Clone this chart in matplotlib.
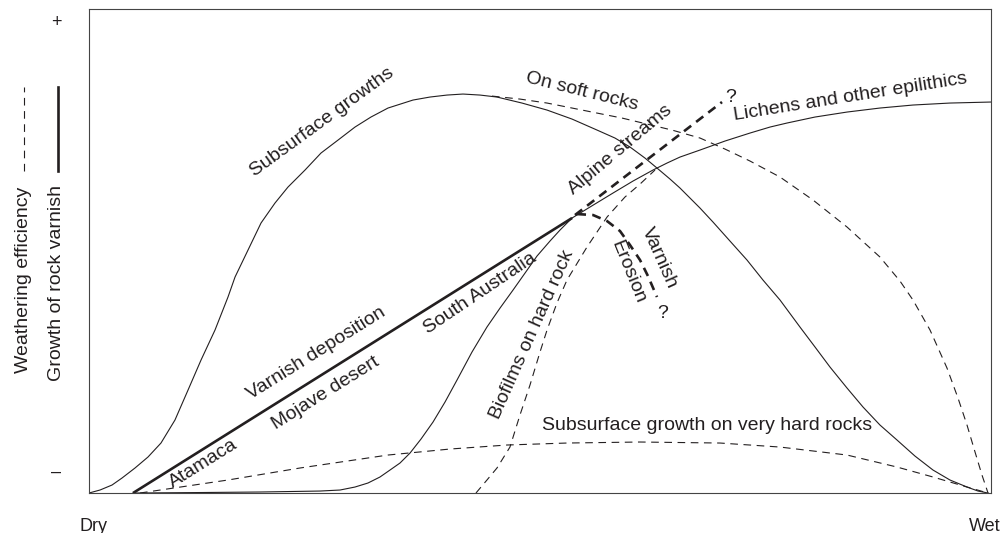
import matplotlib
matplotlib.use("Agg")
import matplotlib.pyplot as plt
from matplotlib.lines import Line2D

plt.rcParams['font.family'] = ['Liberation Sans', 'DejaVu Sans']
plt.rcParams['lines.scale_dashes'] = False

INK = '#231f20'

# moisture gradient: 0 = dry, 100 = wet; response: 0 = low (-), 100 = high (+)

# subsurface growths (solid)
sub_x = [0, 1.22, 2.55, 3.66, 5.10, 6.54, 7.98, 9.53, 10.98, 12.42, 13.97, 15.41,
         16.19, 17.63, 19.07, 20.62, 22.06, 23.95, 25.72, 27.61, 29.49, 31.26, 33.15,
         35.92, 37.80, 39.69, 41.46, 43.35, 45.23, 48.00, 50.78, 53.55, 56.32, 58.31,
         59.98, 61.64, 62.97, 64.41, 65.52, 66.63, 67.74, 69.18, 71.06, 72.95, 74.72,
         76.61, 78.82, 80.49, 82.15, 84.04, 85.81, 87.69, 89.58, 91.57, 93.57, 95.45,
         97.34, 98.56, 99.67]
sub_y = [0, 0.62, 1.65, 3.10, 5.17, 7.44, 10.33, 15.08, 21.28, 27.48, 33.68, 40.50,
         44.63, 50.21, 55.79, 59.92, 63.22, 66.74, 70.25, 72.93, 75.62, 77.69, 79.55,
         81.20, 81.82, 82.23, 82.44, 82.23, 81.82, 80.58, 79.13, 77.27, 75.00, 73.35,
         71.49, 69.21, 67.15, 64.88, 63.02, 60.95, 58.88, 55.99, 52.07, 48.14, 44.01,
         39.88, 34.30, 30.17, 26.03, 21.69, 17.77, 14.05, 10.95, 7.64, 4.75, 2.69,
         1.24, 0.41, 0]

# varnish deposition (thick solid)
dep_x = [4.88, 53.55]
dep_y = [0, 56.82]

# varnish growth on hard rock, South Australia branch (solid)
sa_x = [4.88, 12.31, 18.96, 25.61, 27.83, 29.49, 30.93, 32.26, 33.37, 34.48, 35.59,
        36.81, 38.14, 39.47, 40.80, 42.46, 44.12, 45.57, 47.01, 48.34, 49.67, 51.11,
        52.22, 53.55]
sa_y = [0, 0.10, 0.21, 0.41, 0.62, 1.24, 2.07, 3.31, 4.75, 6.20, 8.26,
        11.16, 14.67, 18.80, 23.35, 29.13, 34.30, 38.22, 41.94, 45.45, 48.97, 52.07,
        54.34, 56.82]

# lichens and other epilithics (solid)
lich_x = [53.55, 55.54, 58.09, 60.31, 62.53, 64.08, 65.52, 67.74, 70.51, 73.28,
          75.50, 77.38, 80.49, 84.04, 87.69, 91.35, 95.45, 100]
lich_y = [56.82, 59.09, 61.98, 64.46, 66.74, 68.18, 69.42, 70.87, 72.73, 74.38,
          75.62, 76.45, 77.69, 78.72, 79.55, 80.17, 80.58, 80.79]

# weathering on soft rocks (dashed)
soft_x = [44.68, 47.78, 50.78, 53.55, 56.32, 59.09, 61.86, 64.63, 67.74, 70.51,
          73.28, 76.61, 80.27, 84.04, 87.69, 89.91, 91.35, 93.24, 95.12, 96.34,
          97.34, 98.23, 99.00, 99.67]
soft_y = [82.02, 81.40, 80.58, 79.55, 78.51, 77.48, 76.24, 75.00, 73.35, 71.07,
          68.60, 65.29, 60.54, 54.96, 48.76, 43.80, 39.88, 33.68, 25.83, 19.63,
          14.05, 8.47, 3.72, 0]

# subsurface growth on very hard rocks (dashed)
hard_x = [5.65, 15.41, 23.39, 33.15, 40.02, 46.34, 52.99, 61.09, 69.96, 76.61,
          84.04, 89.58, 93.57, 97.34, 99.67]
hard_y = [0, 2.69, 5.17, 7.85, 9.09, 9.92, 10.33, 10.54, 10.33, 9.50,
          7.85, 5.37, 3.31, 1.24, 0]

# biofilms on hard rock (dashed)
bio_x = [42.90, 44.12, 45.23, 46.67, 47.78, 48.89, 50.00, 50.78, 51.88, 52.99,
         55.21, 57.43, 59.42, 61.09, 62.75]
bio_y = [0, 2.69, 5.17, 9.50, 16.12, 22.31, 29.13, 33.68, 39.26, 44.01,
         50.83, 57.02, 61.16, 63.84, 66.74]

# alpine streams (thick dashed)
alp_x = [53.88, 70.18]
alp_y = [57.44, 80.79]

# varnish erosion (thick dashed)
ero_x = [54.10, 55.88, 57.43, 58.87, 59.98, 61.09, 61.97, 62.97]
ero_y = [57.64, 57.44, 56.20, 54.13, 51.24, 48.14, 44.83, 40.50]

# curve labels: text, x, y, rotation
labels = [
    ("Subsurface growths", 25.83, 76.65, 36),
    ("On soft rocks", 54.66, 82.85, -14),
    ("Alpine streams", 58.87, 70.87, 40),
    ("?", 71.18, 81.82, 0),
    ("Lichens and other epilithics", 84.37, 81.82, 9),
    ("Varnish deposition", 25.17, 28.93, 32),
    ("Mojave desert", 26.27, 20.66, 32),
    ("Atamaca", 12.64, 5.99, 32),
    ("South Australia", 43.35, 41.32, 34),
    ("Biofilms on hard rock", 49.11, 32.64, 66),
    ("Erosion", 59.76, 45.66, -68),
    ("Varnish", 63.19, 48.55, -66),
    ("?", 63.64, 37.19, 0),
    ("Subsurface growth on very hard rocks", 68.51, 14.05, 0),
]

fig = plt.figure(figsize=(10, 5.33), dpi=100)
ax = fig.add_axes([0.089, 0.075, 0.902, 0.908])

thin = 0.8
thick = 1.9
dash_thin = (0, (5.5, 4.0))
dash_thick = (0, (6.5, 4.5))

ax.plot(sub_x, sub_y, color=INK, lw=thin)
ax.plot(sa_x, sa_y, color=INK, lw=thin)
ax.plot(lich_x, lich_y, color=INK, lw=thin)
ax.plot(dep_x, dep_y, color=INK, lw=thick, solid_capstyle='butt')
ax.plot(soft_x, soft_y, color=INK, lw=thin, linestyle=dash_thin)
ax.plot(hard_x, hard_y, color=INK, lw=thin, linestyle=dash_thin)
ax.plot(bio_x, bio_y, color=INK, lw=thin, linestyle=dash_thin)
ax.plot(alp_x, alp_y, color=INK, lw=thick, linestyle=dash_thick)
ax.plot(ero_x, ero_y, color=INK, lw=thick, linestyle=dash_thick)

for txt, x, y, rot in labels:
    ax.text(x, y, txt, rotation=rot, rotation_mode='anchor', ha='center', va='center',
            fontsize=14, color=INK)

ax.set_xlim(0, 100)
ax.set_ylim(0, 100)
ax.set_xticks([0.5, 99.3])
ax.set_xticklabels(['Dry', 'Wet'])
ax.set_yticks([4.75, 97.7])
ax.set_yticklabels(['–', '+'])
ax.tick_params(length=0, labelsize=13, colors=INK)
ax.tick_params(axis='x', pad=18)
ax.tick_params(axis='y', pad=20)
for sp in ax.spines.values():
    sp.set_color('#444444')
    sp.set_linewidth(0.8)

# axis titles with their line keys
fig.text(24 / 1000, 1 - 280 / 533, "Weathering efficiency", rotation=90,
         ha='center', va='center', fontsize=14, color=INK)
fig.text(57 / 1000, 1 - 283 / 533, "Growth of rock varnish", rotation=90,
         ha='center', va='center', fontsize=14, color=INK)
fig.add_artist(Line2D([24 / 1000, 24 / 1000], [1 - 171 / 533, 1 - 87 / 533],
                      transform=fig.transFigure, color=INK, lw=thin, linestyle=dash_thin))
fig.add_artist(Line2D([58 / 1000, 58 / 1000], [1 - 171 / 533, 1 - 87 / 533],
                      transform=fig.transFigure, color=INK, lw=thick))

fig.savefig('out.png', dpi=100)
